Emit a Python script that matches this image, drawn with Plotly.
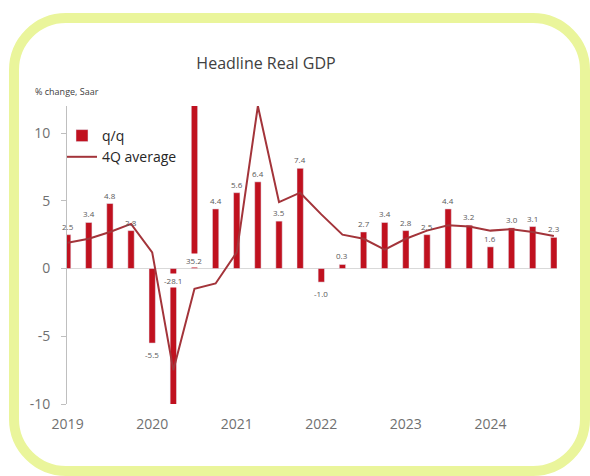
import plotly.graph_objects as go

# ---------------- data ----------------
quarters = [f"{y}Q{q}" for y in range(2019, 2025) for q in range(1, 5)]
qoq = [2.5, 3.4, 4.8, 2.8, -5.5, -28.1, 35.2, 4.4,
       5.6, 6.4, 3.5, 7.4, -1.0, 0.3, 2.7, 3.4,
       2.8, 2.5, 4.4, 3.2, 1.6, 3.0, 3.1, 2.3]
avg4q = [1.9, 2.2, 2.7, 3.3, 1.2, -7.5, -1.5, -1.1,
         1.2, 12.0, 4.9, 5.6, 4.0, 2.5, 2.2, 1.4,
         2.2, 2.8, 3.2, 3.1, 2.8, 2.9, 2.7, 2.4]
year_ticks = [0, 4, 8, 12, 16, 20]
year_labels = ["2019", "2020", "2021", "2022", "2023", "2024"]
y_ticks = [-10, -5, 0, 5, 10]
y_labels = ["-10", "-5", "0", "5", "10"]
y_range = [-10, 12]

W, H = 590, 476
ML, MR, MT, MB = 67, 33, 106, 72
PW, PH = W - ML - MR, H - MT - MB

def px(x):
    return (x - ML) / PW

def py(y):
    return (H - MB - y) / PH

xs = list(range(len(quarters)))

BAR = "#C0111F"
LINE = "#A3343A"
FONT = "Open Sans"

fig = go.Figure()
fig.add_trace(go.Bar(x=xs, y=qoq, name="q/q", marker_color=BAR, width=0.3,
                     hovertext=quarters, legendgroup="a"))
fig.add_trace(go.Scatter(x=xs, y=avg4q, name="4Q average", mode="lines",
                         line=dict(color=LINE, width=2), hovertext=quarters,
                         legendgroup="b"))

# data labels
lab_font = dict(size=8, color="#595959", family=FONT)
for x, v in zip(xs, qoq):
    txt = f"{v:.1f}"
    if v > y_range[1]:
        fig.add_annotation(x=x, y=0, text=txt, showarrow=False, yanchor="bottom",
                           yshift=1, bgcolor="white", font=lab_font)
    elif v < y_range[0]:
        fig.add_annotation(x=x, y=0, text=txt, showarrow=False, yanchor="top",
                           yshift=-4, bgcolor="white", font=lab_font)
    elif v >= 0:
        fig.add_annotation(x=x, y=v, text=txt, showarrow=False, yanchor="bottom",
                           yshift=1, font=lab_font)
    else:
        fig.add_annotation(x=x, y=v, text=txt, showarrow=False, yanchor="top",
                           yshift=-4, font=lab_font)

fig.add_annotation(xref="paper", yref="paper", x=px(33), y=py(92), text="% change, Saar",
                   showarrow=False, xanchor="left", yanchor="middle",
                   font=dict(size=9, color="#404040", family=FONT))

# rounded yellow frame
L, R, T, B, r = 14, 585, 18, 471, 52
k = 0.5523
def P(x, y):
    return f"{px(x):.5f},{py(y):.5f}"
path = (f"M{P(L, T + r)} C{P(L, T + r - k * r)} {P(L + r - k * r, T)} {P(L + r, T)} "
        f"L{P(R - r, T)} C{P(R - r + k * r, T)} {P(R, T + r - k * r)} {P(R, T + r)} "
        f"L{P(R, B - r)} C{P(R, B - r + k * r)} {P(R - r + k * r, B)} {P(R - r, B)} "
        f"L{P(L + r, B)} C{P(L + r - k * r, B)} {P(L, B - r + k * r)} {P(L, B - r)} Z")
fig.add_shape(type="path", path=path, xref="paper", yref="paper",
              line=dict(color="#EAF59B", width=10), layer="below")

fig.update_layout(
    width=W, height=H,
    margin=dict(l=ML, r=MR, t=MT, b=MB, autoexpand=False),
    paper_bgcolor="white", plot_bgcolor="white",
    font=dict(family=FONT, color="#707070"),
    title=dict(text="Headline Real GDP", x=px(266), xref="paper", xanchor="center",
               y=1 - 63 / H, yref="container", yanchor="middle",
               font=dict(size=16, color="#404040", family=FONT)),
    showlegend=True,
    legend=dict(x=px(62), y=py(120), xanchor="left", yanchor="top",
                bgcolor="rgba(0,0,0,0)", font=dict(size=14, color="#262626", family=FONT),
                traceorder="grouped", tracegroupgap=0, itemwidth=30),
)
fig.update_xaxes(range=[-0.03, 23.15], tickmode="array", tickvals=year_ticks,
                 ticktext=year_labels, showgrid=False, showline=False, ticks="",
                 zeroline=False, tickfont=dict(size=14, color="#707070"),
                 ticklabelstandoff=10, automargin=False)
fig.update_yaxes(range=y_range, tickmode="array", tickvals=y_ticks, ticktext=y_labels,
                 showgrid=False, showline=True, linecolor="#BFBFBF", linewidth=1,
                 ticks="outside", ticklen=5, tickcolor="#BFBFBF", zeroline=True,
                 zerolinecolor="#D9D9D9", zerolinewidth=1,
                 tickfont=dict(size=14, color="#707070"), ticklabelstandoff=8,
                 automargin=False)

fig.write_html("out.html", config={"displayModeBar": False},
               post_script="document.body.style.margin='0';document.body.style.overflow='hidden';")
